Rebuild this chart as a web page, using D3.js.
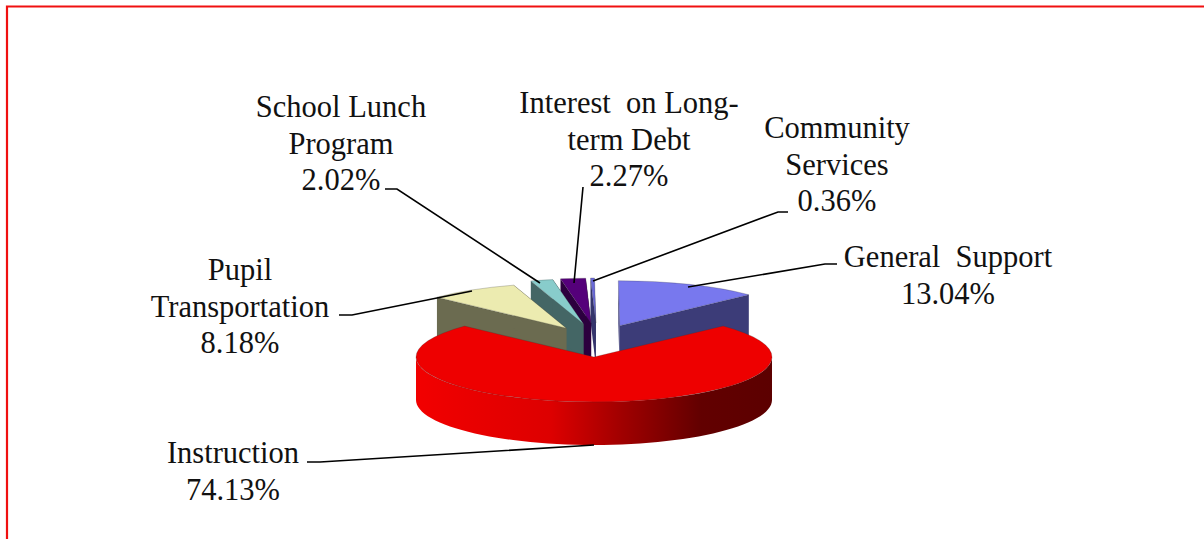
<!DOCTYPE html>
<html>
<head>
<meta charset="utf-8">
<script src="https://cdn.jsdelivr.net/npm/d3@7"></script>
<style>
  html, body { margin: 0; padding: 0; background: #fff; overflow: hidden; }
  text { font-family: "Liberation Serif", serif; font-size: 30.5px; fill: #111; }
</style>
</head>
<body>
<div id="chart"></div>
<script>
// Chart values, clockwise from the Instruction slice
const categories = ["Instruction", "Pupil Transportation", "School Lunch Program", "Interest on Long-term Debt", "Community Services", "General Support"];
const values = [74.13, 8.18, 2.02, 2.27, 0.36, 13.04];
const labelLines = [
    ["Instruction"],
    ["Pupil", "Transportation"],
    ["School Lunch", "Program"],
    ["Interest  on Long-", "term Debt"],
    ["Community", "Services"],
    ["General  Support"]
];

// Styling, same order as above
const topColors = ["#ee0000", "#ecebb0", "#88cccb", "#55007a", "#6a6ad8", "#7878ee"];
const wallColors = ["#ee0000", "#6b6b50", "#446665", "#2c003e", "#35356c", "#3c3c78"];

// Where each label sits, and the leader line that runs from it to its slice
const labelPos = [
    {x: 233, y: 463}, {x: 240, y: 280}, {x: 341, y: 117},
    {x: 629, y: 113}, {x: 837, y: 138}, {x: 948, y: 267}
];
const leaders = [
    [[307, 462], [320, 462], [594, 445]],
    [[339, 315], [352, 315], [472, 291]],
    [[385, 189], [397, 189], [540, 283]],
    [[583, 187], [574, 283]],
    [[788, 212], [778, 212], [593, 281]],
    [[837, 264], [825, 264], [688, 287]]
];

const width = 1204, height = 539;
const cx = 594, cy = 357, rx = 178, ry = 45, depth = 43;
const explodeX = 58, explodeY = 34, explodeShift = 3;
const firstAngle = 46.5 * Math.PI / 180;

const svg = d3.select("#chart")
    .append("svg")
    .attr("width", width)
    .attr("height", height)
    .style("display", "block");

// Red frame, open on the right and at the bottom of the picture
svg.append("path")
    .attr("d", `M7,${height} V6.5 H${width}`)
    .attr("fill", "none")
    .attr("stroke", "#f01010")
    .attr("stroke-width", 2.2);

// Shading along the front wall of the big slice
const grad = svg.append("defs").append("linearGradient")
    .attr("id", "wallShade")
    .attr("gradientUnits", "userSpaceOnUse")
    .attr("x1", cx - rx).attr("x2", cx + rx)
    .attr("y1", 0).attr("y2", 0);
[[0, "#f20000"], [0.38, "#dd0000"], [0.58, "#a00000"], [0.8, "#620000"], [1, "#5c0000"]]
    .forEach(s => grad.append("stop").attr("offset", s[0]).attr("stop-color", s[1]));

const pie = d3.pie()
    .sort(null)
    .startAngle(firstAngle)
    .endAngle(firstAngle + 2 * Math.PI);

const arcs = pie(values).map((d, i) => {
    const mid = (d.startAngle + d.endAngle) / 2;
    // Only the small slices are pulled out of the pie
    const dx = i === 0 ? 0 : explodeX * Math.sin(mid) + explodeShift;
    const dy = i === 0 ? 0 : -explodeY * Math.cos(mid);
    return {...d, index: i, ox: cx + dx, oy: cy + dy};
});

const topArc = d3.arc().innerRadius(0).outerRadius(rx);
const line = d3.line();
const rimPoint = (a, d, drop) => [d.ox + rx * Math.sin(a), d.oy - ry * Math.cos(a) + drop];

// Back slices first, the big slice last
const drawOrder = [5, 4, 3, 2, 1, 0];

const pieGroup = svg.append("g").style("filter", "blur(0.4px)");

const slices = pieGroup.selectAll(".slice")
    .data(drawOrder.map(i => arcs[i]))
    .enter()
    .append("g")
    .attr("class", "slice");

// Side walls of the two cut faces
slices.selectAll(".cut")
    .data(d => d.index === 0 ? [] : [d.startAngle, d.endAngle].map(a => ({a, d})))
    .enter()
    .append("path")
    .attr("class", "cut")
    .attr("d", c => line([
        [c.d.ox, c.d.oy], rimPoint(c.a, c.d, 0), rimPoint(c.a, c.d, depth), [c.d.ox, c.d.oy + depth]
    ]) + "Z")
    .attr("fill", c => wallColors[c.d.index]);

// Outer wall, only the part of the rim that faces the viewer
slices.filter(d => Math.max(d.startAngle, Math.PI / 2) < Math.min(d.endAngle, 3 * Math.PI / 2))
    .append("path")
    .attr("d", d => {
        const lo = Math.max(d.startAngle, Math.PI / 2), hi = Math.min(d.endAngle, 3 * Math.PI / 2);
        const steps = d3.range(0, 61).map(k => lo + (hi - lo) * k / 60);
        return line(steps.map(a => rimPoint(a, d, 0)).concat(steps.slice().reverse().map(a => rimPoint(a, d, depth)))) + "Z";
    })
    .attr("fill", d => d.index === 0 ? "url(#wallShade)" : wallColors[d.index]);

// Top face, a flattened d3 arc
slices.append("path")
    .attr("d", d => topArc(d))
    .attr("transform", d => `translate(${d.ox},${d.oy}) scale(1,${ry / rx})`)
    .attr("fill", d => topColors[d.index])
    .attr("stroke", "#333")
    .attr("stroke-opacity", 0.3)
    .attr("stroke-width", 0.8)
    .attr("vector-effect", "non-scaling-stroke");

// Leader lines
svg.selectAll(".leader")
    .data(leaders)
    .enter()
    .append("path")
    .attr("class", "leader")
    .attr("d", d => line(d))
    .attr("fill", "none")
    .attr("stroke", "#000")
    .attr("stroke-width", 1.6);

// Labels: name lines, then the share
const pct = d3.format(".2f");
const lineGap = 36.5;
const labels = svg.selectAll(".label")
    .data(categories)
    .enter()
    .append("text")
    .attr("class", "label")
    .attr("text-anchor", "middle")
    .attr("xml:space", "preserve")
    .style("white-space", "pre");

labels.selectAll("tspan")
    .data((d, i) => labelLines[i].concat(pct(values[i]) + "%").map(t => ({t, i})))
    .enter()
    .append("tspan")
    .attr("x", d => labelPos[d.i].x)
    .attr("y", (d, k) => labelPos[d.i].y + k * lineGap)
    .text(d => d.t);
</script>
</body>
</html>
